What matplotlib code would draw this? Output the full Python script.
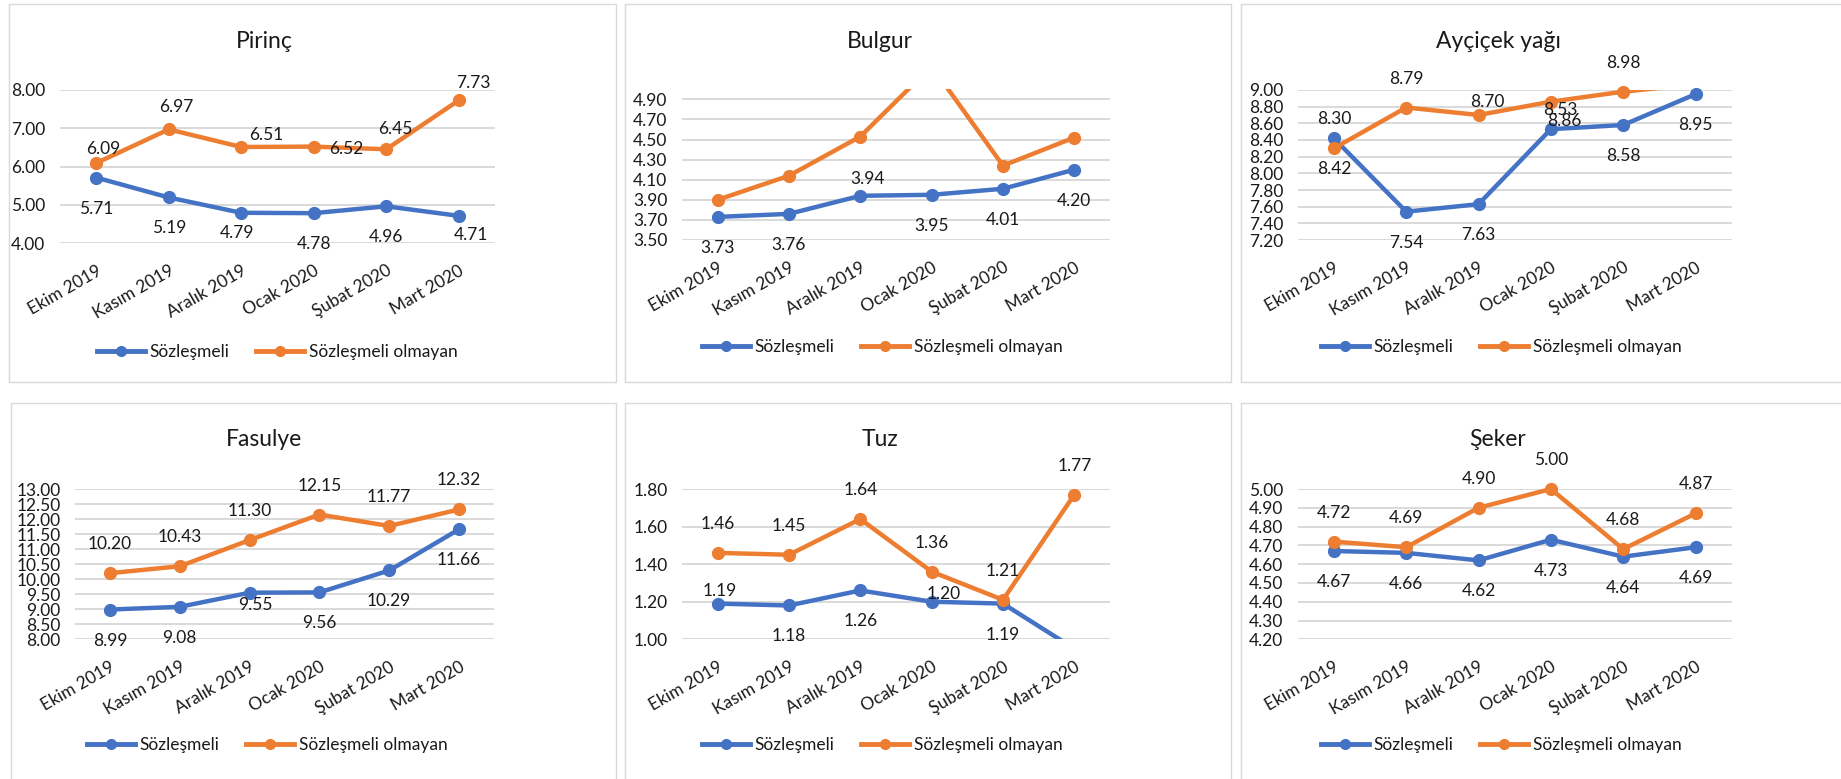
import numpy as np
import matplotlib
matplotlib.use("Agg")
import matplotlib.pyplot as plt
from matplotlib.lines import Line2D
from matplotlib.patches import Rectangle

plt.rcParams['font.family'] = ['Lato', 'DejaVu Sans']

months = ["Ekim 2019", "Kasım 2019", "Aralık 2019", "Ocak 2020", "Şubat 2020", "Mart 2020"]
series_names = ["Sözleşmeli", "Sözleşmeli olmayan"]

# price values (values beyond the axis are estimated from the clipped line)
pirinc_s = [5.71, 5.19, 4.79, 4.78, 4.96, 4.71]
pirinc_o = [6.09, 6.97, 6.51, 6.52, 6.45, 7.73]
bulgur_s = [3.73, 3.76, 3.94, 3.95, 4.01, 4.20]
bulgur_o = [3.90, 4.14, 4.53, 5.23, 4.24, 4.52]
aycicek_s = [8.42, 7.54, 7.63, 8.53, 8.58, 8.95]
aycicek_o = [8.30, 8.79, 8.70, 8.86, 8.98, 9.07]
fasulye_s = [8.99, 9.08, 9.55, 9.56, 10.29, 11.66]
fasulye_o = [10.20, 10.43, 11.30, 12.15, 11.77, 12.32]
tuz_s = [1.19, 1.18, 1.26, 1.20, 1.19, 0.95]
tuz_o = [1.46, 1.45, 1.64, 1.36, 1.21, 1.77]
seker_s = [4.67, 4.66, 4.62, 4.73, 4.64, 4.69]
seker_o = [4.72, 4.69, 4.90, 5.00, 4.68, 4.87]

BLUE = "#4472C4"
ORANGE = "#ED7D31"
GRID = "#D9D9D9"
TXT = "#1a1a1a"
FS = 12.5

W, H = 1841, 779
fig = plt.figure(figsize=(W / 100, H / 100), dpi=100)


def fig_box(x0, y0, x1, y1):
    return [x0 / W, 1 - y1 / H, (x1 - x0) / W, (y1 - y0) / H]


# label offsets in pixels (dx, dy up); defaults unless overridden
DEF_OFF = {"s": (0, -31), "o": (0, 29)}

panels = [
    dict(title="Pirinç", s=pirinc_s, o=pirinc_o, ylim=(4.0, 8.0), top=8.0, step=1.0,
         frame=(9, 4, 616, 382), plot=(60, 90, 495, 243), tpos=(264, 42), lpos=(277, 352),
         off={"o": {0: (7, 14), 1: (8, 22), 2: (25, 12), 3: (33, -2), 4: (9, 20), 5: (15, 17)},
              "s": {2: (-4, -20), 5: (12, -19)}}),
    dict(title="Bulgur", s=bulgur_s, o=bulgur_o, ylim=(3.5, 5.0), top=4.9, step=0.2,
         frame=(625, 4, 1231, 382), plot=(682, 89.3, 1110, 240), tpos=(880, 42), lpos=(882, 347),
         off={"s": {2: (7, 17)}}, hide_o=True),
    dict(title="Ayçiçek yağı", s=aycicek_s, o=aycicek_o, ylim=(7.2, 9.0), top=9.0, step=0.2,
         frame=(1241, 4, 1860, 382), plot=(1297.7, 90, 1731.7, 240), tpos=(1498, 42), lpos=(1501, 347),
         off={"o": {2: (9, 13), 3: (13, -19)}, "s": {3: (10, 19)}}),
    dict(title="Fasulye", s=fasulye_s, o=fasulye_o, ylim=(8.0, 13.0), top=13.0, step=0.5,
         frame=(11, 403, 616, 800), plot=(75, 489, 494, 639.3), tpos=(264, 440), lpos=(267, 745),
         off={"s": {2: (6, -12)}}),
    dict(title="Tuz", s=tuz_s, o=tuz_o, ylim=(1.0, 1.8), top=1.8, step=0.2,
         frame=(625, 403, 1231, 800), plot=(682, 489, 1110, 639.3), tpos=(880, 440), lpos=(882, 745),
         off={"s": {0: (2, 13), 3: (12, 8)}}),
    dict(title="Şeker", s=seker_s, o=seker_o, ylim=(4.2, 5.0), top=5.0, step=0.1,
         frame=(1241, 403, 1860, 800), plot=(1297.7, 489, 1731.7, 639.3), tpos=(1498, 440), lpos=(1501, 745),
         off={}),
]

x = np.arange(len(months))

for p in panels:
    fx0, fy0, fx1, fy1 = p["frame"]
    fig.patches.append(Rectangle((fx0 / W, 1 - fy1 / H), (fx1 - fx0) / W, (fy1 - fy0) / H,
                                 transform=fig.transFigure, fill=False, edgecolor=GRID, lw=1.0))

    ax = fig.add_axes(fig_box(*p["plot"]))
    ylo, yhi = p["ylim"]
    ax.set_xlim(-0.5, len(months) - 0.5)
    ax.set_ylim(ylo, yhi)
    ticks = np.arange(ylo, p["top"] + 1e-9, p["step"])
    ax.set_yticks(ticks)
    ax.set_yticklabels([f"{t:.2f}" for t in ticks])
    ax.set_xticks(x)
    ax.set_xticklabels(months, rotation=30, ha="right", va="top", rotation_mode="anchor")
    ax.tick_params(axis="y", length=0, pad=10.5, labelsize=FS, labelcolor=TXT)
    ax.tick_params(axis="x", length=0, pad=14, labelsize=FS, labelcolor=TXT)
    for sp in ax.spines.values():
        sp.set_visible(False)
    ax.yaxis.grid(True, color=GRID, lw=1.4)
    ax.set_axisbelow(True)
    ax.patch.set_alpha(0)

    for key, color in (("s", BLUE), ("o", ORANGE)):
        vals = np.array(p[key])
        inside = (vals >= ylo - 1e-9) & (vals <= yhi + 1e-9)
        ax.plot(x, vals, color=color, lw=3.2, solid_capstyle="round", zorder=3,
                clip_on=not inside.all())
        ax.plot(x[inside], vals[inside], "o", ms=8.5, color=color, clip_on=False, zorder=4)
        if key == "o" and p.get("hide_o"):
            continue
        for i in np.where(inside)[0]:
            dx, dy = p["off"].get(key, {}).get(i, DEF_OFF[key])
            ax.annotate(f"{vals[i]:.2f}", (x[i], vals[i]), xytext=(dx * 0.72, dy * 0.72),
                        textcoords="offset points", ha="center", va="center",
                        fontsize=FS, color=TXT, annotation_clip=False, zorder=5)

    tx, ty = p["tpos"]
    fig.text(tx / W, 1 - ty / H, p["title"], ha="center", va="center", fontsize=16.5, color=TXT)

    handles = [Line2D([0], [0], color=BLUE, lw=3.5, marker="o", ms=7),
               Line2D([0], [0], color=ORANGE, lw=3.5, marker="o", ms=7)]
    lx, ly = p["lpos"]
    fig.legend(handles, series_names, loc="center", bbox_to_anchor=(lx / W, 1 - ly / H),
               ncol=2, frameon=False, fontsize=FS, handlelength=2.8, handletextpad=0.25,
               columnspacing=1.5, labelcolor=TXT)

fig.savefig("out.png", dpi=100)
